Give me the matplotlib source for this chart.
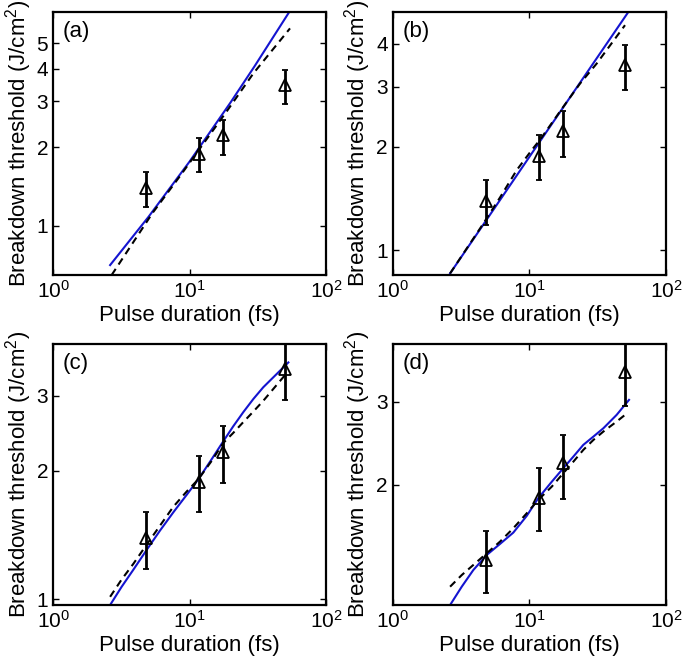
import matplotlib
matplotlib.use("Agg")
import matplotlib.pyplot as plt
from matplotlib.ticker import FixedLocator, FixedFormatter, NullLocator, LogFormatterMathtext

plt.rcParams['font.family'] = ['Liberation Sans', 'DejaVu Sans']
plt.rcParams['mathtext.fontset'] = 'custom'
plt.rcParams['mathtext.rm'] = 'Liberation Sans'
plt.rcParams['mathtext.it'] = 'Liberation Sans:italic'

# measured thresholds (same in every panel)
pulse = [4.8, 11.7, 17.7, 50]
thresh = [1.39, 1.88, 2.22, 3.46]
err_low = [1.18, 1.60, 1.87, 2.94]
err_high = [1.60, 2.17, 2.55, 3.97]

# model curves
a_solid_x = [2.62, 5, 10, 20, 30, 53.8]
a_solid_y = [0.706, 1.08, 1.76, 2.97, 4.09, 6.6]
a_dash_x = [2.69, 5.37, 8.52, 18.7, 29.4, 54.5]
a_dash_y = [0.647, 1.12, 1.55, 2.74, 3.84, 5.71]

b_solid_x = [2.63, 10, 53]
b_solid_y = [0.855, 1.87, 4.95]
b_dash_x = [2.63, 4.61, 6.10, 8.08, 10.4, 12.0, 17.7, 23.5, 31.1, 50.1]
b_dash_y = [0.855, 1.196, 1.424, 1.711, 1.957, 2.102, 2.617, 3.061, 3.501, 4.53]

c_solid_x = [2.62, 3.18, 3.88, 4.86, 6.08, 7.61, 9.53, 11.6, 14.5, 17.7,
             20.9, 24.8, 29.4, 34.7, 43.5, 53.0]
c_solid_y = [0.970, 1.070, 1.174, 1.307, 1.450, 1.600, 1.758, 1.912, 2.129, 2.349,
             2.545, 2.749, 2.952, 3.143, 3.376, 3.594]
c_dash_x = [2.62, 3.18, 3.88, 4.86, 6.08, 7.61, 9.53, 11.6, 14.5, 17.7,
            20.9, 24.8, 29.4, 34.7, 43.5, 50.1]
c_dash_y = [1.014, 1.113, 1.212, 1.345, 1.489, 1.649, 1.790, 1.912, 2.110, 2.328,
            2.456, 2.605, 2.758, 2.921, 3.182, 3.357]

d_solid_x = [2.63, 3.20, 3.89, 4.87, 6.10, 7.63, 9.56, 11.6, 14.6, 17.7,
             21.0, 24.8, 29.4, 34.8, 43.5, 53.6]
d_solid_y = [1.115, 1.219, 1.322, 1.422, 1.501, 1.586, 1.720, 1.874, 2.032, 2.169,
             2.296, 2.430, 2.530, 2.635, 2.812, 3.025]
d_dash_x = [2.63, 3.20, 3.89, 4.87, 6.10, 7.63, 9.56, 11.6, 14.6, 17.7,
            21.0, 24.8, 29.4, 34.8, 43.5, 50.1]
d_dash_y = [1.219, 1.290, 1.355, 1.434, 1.518, 1.620, 1.742, 1.859, 1.984, 2.117,
            2.240, 2.371, 2.489, 2.593, 2.722, 2.812]

panels = [
    ("(a)", a_solid_x, a_solid_y, a_dash_x, a_dash_y, (0.647, 6.6), [1, 2, 3, 4, 5]),
    ("(b)", b_solid_x, b_solid_y, b_dash_x, b_dash_y, (0.846, 4.95), [1, 2, 3, 4]),
    ("(c)", c_solid_x, c_solid_y, c_dash_x, c_dash_y, (0.97, 3.97), [1, 2, 3]),
    ("(d)", d_solid_x, d_solid_y, d_dash_x, d_dash_y, (1.115, 3.97), [2, 3]),
]

positions = [
    [0.0774, 0.5865, 0.3985, 0.3955],
    [0.5733, 0.5865, 0.3990, 0.3955],
    [0.0774, 0.0902, 0.3985, 0.3925],
    [0.5733, 0.0902, 0.3990, 0.3925],
]

fig = plt.figure(figsize=(6.85, 6.65), dpi=100)

for (tag, sx, sy, dx, dy, ylim, yticks), pos in zip(panels, positions):
    ax = fig.add_axes(pos)
    ax.plot(sx, sy, color='#1414d0', lw=1.5)
    ax.plot(dx, dy, color='black', lw=1.5, ls=(0, (3.5, 2.5)))
    lower = [t - l for t, l in zip(thresh, err_low)]
    upper = [h - t for t, h in zip(thresh, err_high)]
    ax.errorbar(pulse, thresh, yerr=[lower, upper], fmt='^', color='black',
                mfc='none', mec='black', ms=9, mew=1.3, elinewidth=2,
                capsize=2.5, capthick=1.5)
    ax.set_xscale('log')
    ax.set_yscale('log')
    ax.set_xlim(1, 100)
    ax.set_ylim(*ylim)
    ax.xaxis.set_major_locator(FixedLocator([1, 10, 100]))
    ax.xaxis.set_major_formatter(LogFormatterMathtext())
    ax.xaxis.set_minor_locator(NullLocator())
    ax.yaxis.set_major_locator(FixedLocator(yticks))
    ax.yaxis.set_major_formatter(FixedFormatter([str(v) for v in yticks]))
    ax.yaxis.set_minor_locator(NullLocator())
    ax.tick_params(direction='in', top=True, right=True, length=4, width=1,
                   labelsize=15)
    for s in ax.spines.values():
        s.set_linewidth(1.6)
    ax.set_xlabel('Pulse duration (fs)', fontsize=16, labelpad=2)
    ax.set_ylabel('Breakdown threshold (J/cm$^2$)', fontsize=16, labelpad=2)
    ax.text(0.035, 0.965, tag, transform=ax.transAxes, fontsize=16,
            ha='left', va='top')

fig.savefig('out.png', dpi=100)
